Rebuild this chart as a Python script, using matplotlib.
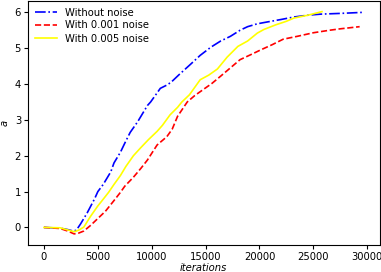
import matplotlib
matplotlib.use('Agg')
import matplotlib.pyplot as plt

# values
blue_x = [0, 1500, 2200, 2700, 3000, 3400, 4000, 4700, 5000, 5500, 6200, 6500, 7100,
          7500, 8000, 8700, 9600, 9900, 10800, 11400, 11800, 12500, 13600, 14500, 15500,
          16400, 17300, 18200, 18900, 19800, 20700, 22000, 23200, 24500, 25700, 27500, 29660]
blue_y = [0, -0.02, -0.06, -0.1, -0.08, 0.1, 0.4, 0.8, 1.0, 1.2, 1.55, 1.8, 2.1,
          2.35, 2.65, 2.95, 3.4, 3.5, 3.88, 3.97, 4.05, 4.25, 4.55, 4.8, 5.03,
          5.2, 5.33, 5.5, 5.6, 5.68, 5.73, 5.8, 5.87, 5.92, 5.95, 5.97, 6.0]

red_x = [0, 1500, 2200, 2800, 3200, 3700, 4300, 5000, 5700, 6500, 7100, 7500, 8300,
         9000, 9600, 10500, 11400, 11900, 12400, 13300, 14000, 14800, 15600, 16400,
         17300, 18200, 19200, 20100, 21200, 22200, 23500, 25000, 26500, 27500, 29300]
red_y = [0, -0.03, -0.1, -0.18, -0.16, -0.1, 0.05, 0.25, 0.45, 0.75, 0.98, 1.15, 1.4,
         1.65, 1.88, 2.3, 2.53, 2.74, 3.1, 3.5, 3.68, 3.85, 4.02, 4.22,
         4.45, 4.68, 4.82, 4.95, 5.1, 5.25, 5.33, 5.43, 5.5, 5.54, 5.6]

yellow_x = [0, 1500, 2200, 2800, 3200, 3700, 4300, 5000, 5400, 6000, 6500, 7100, 7600,
            8300, 9000, 9700, 10500, 11000, 11700, 12400, 12800, 13500, 14500, 15300,
            16100, 17000, 18000, 18900, 19800, 20400, 21500, 22500, 23200, 24500, 25800]
yellow_y = [0, -0.01, -0.07, -0.12, -0.08, 0.01, 0.3, 0.6, 0.75, 0.98, 1.2, 1.45, 1.7,
            2.0, 2.23, 2.45, 2.68, 2.85, 3.14, 3.35, 3.5, 3.7, 4.12, 4.25,
            4.42, 4.75, 5.05, 5.2, 5.42, 5.52, 5.65, 5.75, 5.84, 5.92, 6.02]

fig = plt.figure(figsize=(3.81, 2.72), dpi=100)
ax = fig.add_axes([28 / 381, 27 / 272, 351.5 / 381, 244.5 / 272])

ax.plot(blue_x, blue_y, '-.', color='blue', lw=1.2, label='Without noise')
ax.plot(red_x, red_y, '--', color='red', lw=1.2, label='With 0.001 noise')
ax.plot(yellow_x, yellow_y, '-', color='yellow', lw=1.2, label='With 0.005 noise')

ax.set_xlabel('iterations', fontsize=7.2, style='italic', labelpad=1)
ax.set_ylabel('a', fontsize=7.2, style='italic', labelpad=4)
ax.tick_params(labelsize=7.2, length=3, pad=2)
ax.set_xticks([0, 5000, 10000, 15000, 20000, 25000, 30000])
ax.set_yticks([0, 1, 2, 3, 4, 5, 6])
ax.legend(loc='upper left', frameon=False, fontsize=7.2, borderaxespad=0.3,
          labelspacing=0.3, handlelength=2.2)

fig.savefig('out.png', dpi=100)
